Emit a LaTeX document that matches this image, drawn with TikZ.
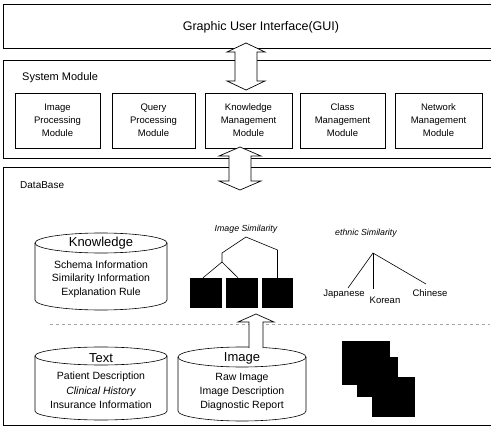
\documentclass[tikz,border=0pt]{standalone}
\usepackage{fontspec}
\setmainfont{Liberation Sans}
\usetikzlibrary{calc}
\newcommand\drawcyl[5]{%
  \draw[cyl] ({(#1+#2)/2},#3) ellipse[x radius={(#2-#1)/2}, y radius=#5];
  \draw[cyl] (#1,#3) -- (#1,#4) arc[start angle=180, end angle=0, x radius={(#2-#1)/2}, y radius=#5] -- (#2,#3);
}
\newcommand\dblarrow[6]{% c, ytop, ybot, head half width, shaft half width, head length
  \draw[bigarrow] (#1,#2) -- ({#1+#4},{#2+#6}) -- ({#1+#5},{#2+#6}) -- ({#1+#5},{#3-#6}) -- ({#1+#4},{#3-#6}) -- (#1,#3)
    -- ({#1-#4},{#3-#6}) -- ({#1-#5},{#3-#6}) -- ({#1-#5},{#2+#6}) -- ({#1-#4},{#2+#6}) -- cycle;
}
\begin{document}
\begin{tikzpicture}[x=1pt,y=-1pt]
\tikzset{
  frameline/.style={line width=0.6pt},
  modbox/.style={draw, line width=0.6pt, minimum height=55pt, align=center,
    font=\fontsize{9.5}{13}\selectfont, inner sep=0pt},
  bigarrow/.style={draw, fill=white, line width=0.7pt},
  dbtext/.style={font=\fontsize{10.5}{12}\selectfont, inner sep=0pt},
  dbtitle/.style={font=\fontsize{13}{14}\selectfont, inner sep=0pt},
  cyl/.style={line width=0.6pt},
  simlabel/.style={font=\itshape\fontsize{8.8}{10}\selectfont, inner sep=0pt},
  ethlabel/.style={font=\fontsize{9.5}{11}\selectfont, inner sep=0pt},
  treeline/.style={line width=0.6pt},
  blackimg/.style={fill=black, inner sep=0pt},
  seclabel/.style={font=\fontsize{11}{13}\selectfont, inner sep=0pt},
}
\useasboundingbox (0,0) rectangle (491,436);
\fill[white] (0,0) rectangle (491,436);

% outer frames
\draw[frameline] (491,4) -- (3,4) -- (3,48) -- (491,48);
\node[seclabel, font=\fontsize{12.5}{14}\selectfont] (gui) at (261,27) {Graphic User Interface(GUI)};
\draw[frameline] (491,60) -- (3,60) -- (3,158) -- (491,158);
\node[seclabel, anchor=west] (sys) at (22,78) {System Module};
\draw[frameline] (491,167) -- (3,167) -- (3,425) -- (491,425);
\node[seclabel, anchor=west, font=\fontsize{10}{12}\selectfont] (db) at (20,185) {DataBase};

% modules
\node[modbox, minimum width=85pt] (m1) at (57.5,120.5) {Image\\Processing\\Module};
\node[modbox, minimum width=83pt] (m2) at (153.5,120.5) {Query\\Processing\\Module};
\node[modbox, minimum width=87pt] (m3) at (248.5,120.5) {Knowledge\\Management\\Module};
\node[modbox, minimum width=85pt] (m4) at (342.5,120.5) {Class\\Management\\Module};
\node[modbox, minimum width=87pt] (m5) at (438.5,120.5) {Network\\Management\\Module};

% big arrows
\dblarrow{246}{43}{90}{19}{11}{9}
\dblarrow{240}{147}{190}{21}{11}{9}

% dashed separator
\draw[gray!70, dashed, line width=0.5pt] (50,324) -- (490,324);

% Knowledge cylinder
\drawcyl{35}{167}{243}{300}{10}
\node[dbtitle] (kt) at (101,243) {Knowledge};
\node[dbtext] (k1) at (101,265) {Schema Information};
\node[dbtext] (k2) at (101,279) {Similarity Information};
\node[dbtext] (k3) at (101,293) {Explanation Rule};

% Image similarity tree
\node[simlabel] (isl) at (246,229) {Image Similarity};
\node[blackimg, minimum width=32pt, minimum height=30pt] (b1) at (206,293) {};
\node[blackimg, minimum width=32pt, minimum height=30pt] (b2) at (242,293) {};
\node[blackimg, minimum width=31pt, minimum height=30pt] (b3) at (277.5,293) {};
\coordinate (isroot) at (246,237);
\coordinate (isleft) at (222,253);
\coordinate (islow) at (222,262);
\coordinate (isright) at (277.5,250);
\draw[treeline] (islow) -- (isleft) -- (isroot) -- (isright) -- (b3.north);
\draw[treeline] ($(b1.north)+(-3,0)$) -- (islow) -- ($(b2.north)+(-4,0)$);

% ethnic similarity tree
\node[simlabel] (esl) at (366,233) {ethnic Similarity};
\node[ethlabel] (jap) at (344,294) {Japanese};
\node[ethlabel] (kor) at (385,300) {Korean};
\node[ethlabel] (chi) at (430,293) {Chinese};
\coordinate (eroot) at (373,253);
\coordinate (jend) at (348,288);
\coordinate (kend) at (373,289);
\coordinate (cend) at (426,284);
\draw[treeline] (jend) -- (eroot) -- (cend);
\draw[treeline] (eroot) -- (kend);

% Text cylinder
\drawcyl{35}{167}{356}{411}{9}
\node[dbtitle] (tt) at (101,358) {Text};
\node[dbtext] (t1) at (101,377) {Patient Description};
\node[dbtext, font=\itshape\fontsize{10.5}{12}\selectfont] (t2) at (101,392) {Clinical History};
\node[dbtext] (t3) at (101,405) {Insurance Information};

% Image cylinder
\drawcyl{178}{306}{357}{411}{10}
\node[dbtitle] (it) at (242,358) {Image};
\node[dbtext] (i1) at (242,378) {Raw Image};
\node[dbtext] (i2) at (242,392) {Image Description};
\node[dbtext] (i3) at (242,406) {Diagnostic Report};

% up arrow from image db
\draw[bigarrow] (249,348) -- (249,322) -- (238,322) -- (256,314) -- (274,322) -- (263,322) -- (263,348);

% raw image stack
\node[blackimg, minimum width=48pt, minimum height=44pt] (r1) at (366,363) {};
\node[blackimg, minimum width=41pt, minimum height=40pt] (r2) at (377.5,377) {};
\node[blackimg, minimum width=43pt, minimum height=40pt] (r3) at (393.5,397) {};
\end{tikzpicture}
\end{document}
